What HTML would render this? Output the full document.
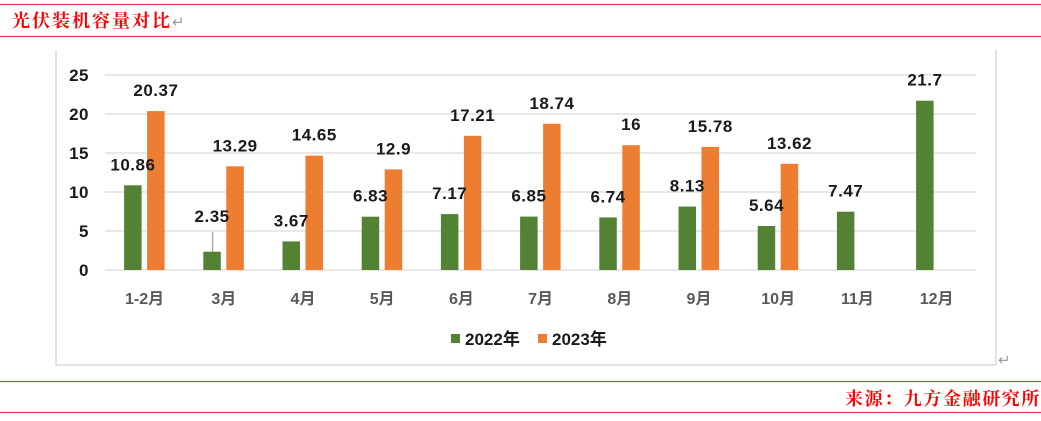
<!DOCTYPE html>
<html>
<head>
<meta charset="utf-8">
<style>
html,body{margin:0;padding:0;background:#fff;}
body{width:1041px;height:421px;overflow:hidden;position:relative;}
svg{position:absolute;left:0;top:0;}
</style>
</head>
<body>
<svg width="1041" height="421" viewBox="0 0 1041 421" xmlns="http://www.w3.org/2000/svg">
  <!-- header lines -->
  <line x1="0" y1="4.5" x2="1041" y2="4.5" stroke="#d0484a" stroke-width="1.2"/>
  <line x1="0" y1="36.5" x2="1041" y2="36.5" stroke="#d0484a" stroke-width="1.2"/>
  <text x="12" y="27" font-family="'Liberation Serif','Noto Serif CJK SC',serif" font-size="18" font-weight="bold" fill="#ff0000" letter-spacing="2">光伏装机容量对比</text>
  <text x="172" y="27" font-family="'DejaVu Sans',sans-serif" font-size="15" fill="#999">↵</text>

  <!-- chart frame -->
  <path d="M56,50 V365 H996 V50" fill="none" stroke="#d9d9d9" stroke-width="1.5"/>

  <!-- gridlines -->
  <g stroke="#d9d9d9" stroke-width="1.2">
    <line x1="105" y1="75" x2="976" y2="75"/>
    <line x1="105" y1="114" x2="976" y2="114"/>
    <line x1="105" y1="153" x2="976" y2="153"/>
    <line x1="105" y1="192" x2="976" y2="192"/>
    <line x1="105" y1="231" x2="976" y2="231"/>
    <line x1="105" y1="270" x2="976" y2="270"/>
  </g>

  <!-- y tick labels -->
  <g font-family="'Liberation Sans',sans-serif" font-size="17" font-weight="bold" fill="#1a1a1a" text-anchor="end" letter-spacing="0.5">
    <text x="89" y="81">25</text>
    <text x="89" y="120">20</text>
    <text x="89" y="159">15</text>
    <text x="89" y="198">10</text>
    <text x="89" y="237">5</text>
    <text x="89" y="276">0</text>
  </g>

  <!-- bars 2022 (green) -->
  <g fill="#548235">
    <rect x="124.1" y="185.3" width="17.5" height="84.7"/>
    <rect x="203.3" y="251.7" width="17.5" height="18.3"/>
    <rect x="282.5" y="241.4" width="17.5" height="28.6"/>
    <rect x="361.7" y="216.7" width="17.5" height="53.3"/>
    <rect x="440.9" y="214.1" width="17.5" height="55.9"/>
    <rect x="520.1" y="216.6" width="17.5" height="53.4"/>
    <rect x="599.3" y="217.4" width="17.5" height="52.6"/>
    <rect x="678.5" y="206.6" width="17.5" height="63.4"/>
    <rect x="757.7" y="226.0" width="17.5" height="44.0"/>
    <rect x="836.9" y="211.7" width="17.5" height="58.3"/>
    <rect x="916.1" y="100.7" width="17.5" height="169.3"/>
  </g>
  <!-- bars 2023 (orange) -->
  <g fill="#ed7d31">
    <rect x="147.1" y="111.1" width="17.5" height="158.9"/>
    <rect x="226.3" y="166.3" width="17.5" height="103.7"/>
    <rect x="305.5" y="155.7" width="17.5" height="114.3"/>
    <rect x="384.7" y="169.4" width="17.5" height="100.6"/>
    <rect x="463.9" y="135.8" width="17.5" height="134.2"/>
    <rect x="543.1" y="123.8" width="17.5" height="146.2"/>
    <rect x="622.3" y="145.2" width="17.5" height="124.8"/>
    <rect x="701.5" y="146.9" width="17.5" height="123.1"/>
    <rect x="780.7" y="163.8" width="17.5" height="106.2"/>
  </g>

  <!-- leader line for 2.35 -->
  <line x1="212.7" y1="232" x2="212.7" y2="251.7" stroke="#8c8c8c" stroke-width="1"/>

  <!-- value labels -->
  <g font-family="'Liberation Sans',sans-serif" font-size="17" font-weight="bold" fill="#1a1a1a" text-anchor="middle" letter-spacing="0.5">
    <text x="132.9" y="170.3">10.86</text>
    <text x="212.1" y="222">2.35</text>
    <text x="291.3" y="226.4">3.67</text>
    <text x="370.5" y="201.7">6.83</text>
    <text x="449.7" y="199.1">7.17</text>
    <text x="528.9" y="201.6">6.85</text>
    <text x="608.1" y="202.4">6.74</text>
    <text x="687.3" y="191.6">8.13</text>
    <text x="766.5" y="211.0">5.64</text>
    <text x="845.7" y="196.7">7.47</text>
    <text x="924.9" y="85.7">21.7</text>

    <text x="155.9" y="96.1">20.37</text>
    <text x="235.1" y="151.3">13.29</text>
    <text x="314.3" y="140.7">14.65</text>
    <text x="393.5" y="154.4">12.9</text>
    <text x="472.7" y="120.8">17.21</text>
    <text x="551.9" y="108.8">18.74</text>
    <text x="631.1" y="130.2">16</text>
    <text x="710.3" y="131.9">15.78</text>
    <text x="789.5" y="148.8">13.62</text>
  </g>

  <!-- x labels -->
  <g font-family="'Liberation Sans','Noto Sans CJK SC',sans-serif" font-size="16" font-weight="bold" fill="#595959" text-anchor="middle">
    <text x="144.6" y="304">1-2月</text>
    <text x="223.8" y="304">3月</text>
    <text x="303.0" y="304">4月</text>
    <text x="382.2" y="304">5月</text>
    <text x="461.4" y="304">6月</text>
    <text x="540.6" y="304">7月</text>
    <text x="619.8" y="304">8月</text>
    <text x="699.0" y="304">9月</text>
    <text x="778.2" y="304">10月</text>
    <text x="857.4" y="304">11月</text>
    <text x="936.6" y="304">12月</text>
  </g>

  <!-- legend -->
  <rect x="451" y="334" width="9" height="9" fill="#548235"/>
  <rect x="538" y="334" width="9" height="9" fill="#ed7d31"/>
  <g font-family="'Liberation Sans','Noto Sans CJK SC',sans-serif" font-size="17" font-weight="bold" fill="#1a1a1a">
    <text x="465" y="345">2022年</text>
    <text x="552" y="345">2023年</text>
  </g>

  <text x="998" y="365" font-family="'DejaVu Sans',sans-serif" font-size="15" fill="#999">↵</text>

  <!-- footer -->
  <line x1="0" y1="381.5" x2="1041" y2="381.5" stroke="#d0484a" stroke-width="1.2"/>
  <line x1="0" y1="412.5" x2="1041" y2="412.5" stroke="#d0484a" stroke-width="1.2"/>
  <text x="1041" y="405" text-anchor="end" font-family="'Liberation Serif','Noto Serif CJK SC',serif" font-size="18" font-weight="bold" fill="#ff0000" letter-spacing="1.6">来源：九方金融研究所</text>
</svg>
</body>
</html>
